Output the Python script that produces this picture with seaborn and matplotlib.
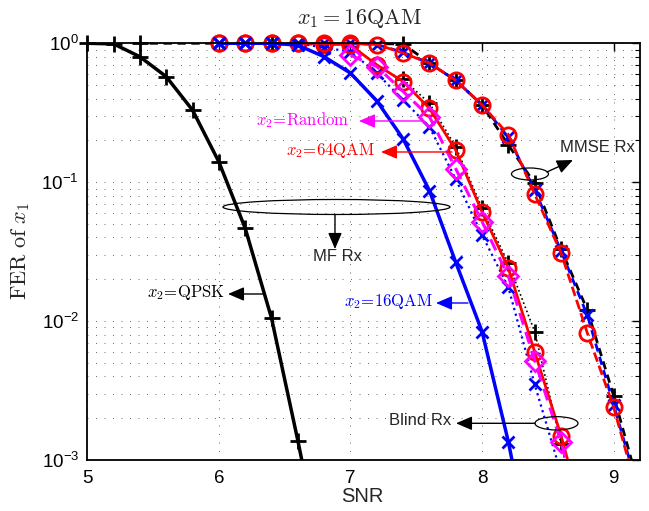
import numpy as np
import pandas as pd
import matplotlib
matplotlib.use("Agg")
import matplotlib.pyplot as plt
from matplotlib.patches import Ellipse
from matplotlib.ticker import LogLocator, FixedLocator
import seaborn as sns

# ---------------- data ----------------
# Matched-filter receiver
mf_qpsk_snr = [5.0, 5.2, 5.4, 5.6, 5.8, 6.0, 6.2, 6.4, 6.6, 6.8]
mf_qpsk_fer = [1.0, 0.99, 0.80, 0.575, 0.33, 0.14, 0.0466, 0.0105, 0.00138, 1.6e-4]

mf_16qam_snr = [6.0, 6.2, 6.4, 6.6, 6.8, 7.0, 7.2, 7.4, 7.6, 7.8, 8.0, 8.2, 8.4]
mf_16qam_fer = [1.0, 1.0, 1.0, 0.97, 0.80, 0.61, 0.385, 0.205, 0.087, 0.0265, 0.0084, 0.00135, 1.5e-4]

# Blind receiver
blind_snr = [6.0, 6.2, 6.4, 6.6, 6.8, 7.0, 7.2, 7.4, 7.6, 7.8, 8.0, 8.2, 8.4, 8.6, 8.8]
blind_64qam_fer = [1.0, 1.0, 1.0, 1.0, 1.0, 0.97, 0.70, 0.53, 0.34, 0.17, 0.061, 0.024, 0.006, 0.0015, 3e-4]
blind_16qam_fer = [1.0, 1.0, 1.0, 1.0, 0.93, 0.87, 0.61, 0.39, 0.25, 0.105, 0.0417, 0.0175, 0.0035, 8e-4, 1.5e-4]
blind_random_snr = [7.0, 7.2, 7.4, 7.6, 7.8, 8.0, 8.2, 8.4, 8.6, 8.8]
blind_random_fer = [0.82, 0.68, 0.45, 0.296, 0.125, 0.052, 0.021, 0.0052, 0.00135, 2.5e-4]
blind_qpsk_snr = [7.4, 7.6, 7.8, 8.0, 8.2, 8.4, 8.6, 8.8]
blind_qpsk_fer = [0.55, 0.37, 0.18, 0.065, 0.026, 0.0084, 0.0013, 2e-4]

# MMSE receiver
mmse_snr = [6.0, 6.2, 6.4, 6.6, 6.8, 7.0, 7.2, 7.4, 7.6, 7.8, 8.0, 8.2, 8.4, 8.6, 8.8, 9.0, 9.2]
mmse_64qam_fer = [1.0, 1.0, 1.0, 1.0, 0.97, 1.0, 0.98, 0.85, 0.72, 0.54, 0.36, 0.22, 0.082, 0.031, 0.0082, 0.0024, 5e-4]
mmse_16qam_fer = [1.0, 1.0, 1.0, 1.0, 1.0, 1.0, 0.98, 0.86, 0.72, 0.54, 0.36, 0.21, 0.088, 0.032, 0.011, 0.0025, 5.5e-4]
mmse_qpsk_snr = [5.4, 6.4, 7.4, 7.6, 7.8, 8.0, 8.2, 8.4, 8.6, 8.8, 9.0, 9.2]
mmse_qpsk_fer = [1.0, 1.0, 0.99, 0.72, 0.54, 0.36, 0.185, 0.098, 0.033, 0.012, 0.0029, 6e-4]

x_ticks = [5, 6, 7, 8, 9]
x_limits = (5.0, 9.2)
y_limits = (1e-3, 1.0)

# ---------------- style ----------------
sns.set_theme(style="white")
plt.rcParams["font.family"] = ["Liberation Sans", "DejaVu Sans"]
plt.rcParams["mathtext.fontset"] = "cm"
plt.rcParams["axes.unicode_minus"] = True

BLUE = (0, 0, 1)
RED = (1, 0, 0)
MAG = (1, 0, 1)
BLACK = (0, 0, 0)

fig = plt.figure(figsize=(6.49, 5.11), dpi=100)
ax = fig.add_axes([0.1345, 0.0998, 0.8516, 0.8155])
ax.set_yscale("log")


def curve(snr, fer, color, ls, lw, marker, ms, mew, z):
    df = pd.DataFrame({"snr": snr, "fer": fer})
    sns.lineplot(data=df, x="snr", y="fer", ax=ax, color=color, linestyle=ls,
                 linewidth=lw, estimator=None, sort=False, zorder=z, legend=False)
    inside = df[(df.fer >= y_limits[0]) & (df.snr <= x_limits[1])]
    ax.plot(inside.snr, inside.fer, linestyle="none", marker=marker, ms=ms,
            mew=mew, mfc="none", mec=color, clip_on=False, zorder=z + 0.5)


# MMSE curves (interleaved dashes)
curve(mmse_qpsk_snr, mmse_qpsk_fer, BLACK, (1.5, (3, 2)), 2.0, "+", 12, 2.0, 3)
curve(mmse_snr, mmse_16qam_fer, BLUE, (3, (3, 2)), 2.0, "x", 9, 2.0, 4)
curve(mmse_snr, mmse_64qam_fer, RED, (0, (3.5, 1.5)), 2.0, "o", 11, 2.0, 5)

# Blind receiver curves
curve(blind_qpsk_snr, blind_qpsk_fer, BLACK, ":", 1.2, "+", 12, 2.0, 6)
curve(blind_snr, blind_16qam_fer, BLUE, ":", 1.6, "x", 9, 2.0, 7)
curve(blind_snr, blind_64qam_fer, RED, "-", 2.0, "o", 11, 2.0, 8)
curve(blind_random_snr, blind_random_fer, MAG, (0, (4, 2.5)), 2.2, "D", 10, 2.0, 9)

# Matched-filter curves
curve(mf_16qam_snr, mf_16qam_fer, BLUE, "-", 2.5, "x", 9, 2.0, 10)
curve(mf_qpsk_snr, mf_qpsk_fer, BLACK, "-", 2.5, "+", 12, 2.0, 11)

# ---------------- axes ----------------
ax.set_xlim(*x_limits)
ax.set_ylim(*y_limits)
ax.xaxis.set_major_locator(FixedLocator(x_ticks))
ax.yaxis.set_major_locator(LogLocator(base=10, numticks=10))
ax.yaxis.set_minor_locator(LogLocator(base=10, subs=np.arange(2, 10), numticks=20))
ax.set_xlabel("")
ax.set_ylabel("")

grid_kw = dict(color="#555555", linewidth=0.6, linestyle=(0, (1.2, 9)))
ax.grid(True, which="major", axis="x", **grid_kw)
ax.grid(True, which="both", axis="y", **grid_kw)
ax.set_axisbelow(True)

for s in ax.spines.values():
    s.set_visible(True)
    s.set_color("black")
    s.set_linewidth(1.3)
    s.set_zorder(20)

ax.tick_params(axis="both", which="both", direction="in", top=True, right=True,
               colors="black", labelsize=13.5)
ax.tick_params(axis="both", which="major", length=6, width=1.0, pad=6)
ax.tick_params(axis="x", which="major", pad=7)
ax.tick_params(axis="y", which="minor", length=3.5, width=0.8)
ax.set_facecolor("white")

# ---------------- texts ----------------
fig.text(0.553, 1 - 18 / 511, r"$x_1 = \mathrm{16QAM}$", ha="center", va="center",
         fontsize=16)
fig.text(0.031, 1 - 251 / 511, r"$\mathrm{FER\ of\ }x_1$", ha="center", va="center",
         rotation=90, fontsize=16)
fig.text(0.558, 1 - 496 / 511, "SNR", ha="center", va="center", fontsize=14.5)


def fx(px):
    return (px - 87.3) / 552.7


def fy(py):
    return (460.0 - py) / 416.7


arrow = dict(arrowstyle="-|>,head_length=0.7,head_width=0.3", mutation_scale=14,
             shrinkA=0, shrinkB=0, linewidth=1.0)


def labelled_arrow(text, tail, tip, text_xy, color, ha="right", fs=12):
    ax.annotate("", xy=(fx(tip[0]), fy(tip[1])), xytext=(fx(tail[0]), fy(tail[1])),
                xycoords="axes fraction", textcoords="axes fraction",
                arrowprops=dict(arrow, color=color), zorder=30,
                annotation_clip=False)
    ax.text(fx(text_xy[0]), fy(text_xy[1]), text, transform=ax.transAxes,
            ha=ha, va="center", color=color, fontsize=fs, zorder=30)


labelled_arrow(r"$x_2\!=\!\mathrm{Random}$", (422, 121), (359, 121), (349, 120), MAG)
labelled_arrow(r"$x_2\!=\!\mathrm{64QAM}$", (452, 152), (381, 152), (375, 151), RED)
labelled_arrow(r"$x_2\!=\!\mathrm{QPSK}$", (263, 294), (228, 294), (225, 293), BLACK)
labelled_arrow(r"$x_2\!=\!\mathrm{16QAM}$", (468, 303), (436, 303), (433, 302), BLUE)


def ellipse(cx, cy, w, h):
    e = Ellipse((fx(cx), fy(cy)), w / 552.7, h / 416.7, transform=ax.transAxes,
                fill=False, edgecolor="black", linewidth=0.9, zorder=30, clip_on=False)
    ax.add_patch(e)


# MF receiver group
ellipse(336.5, 207, 227, 15)
ax.annotate("", xy=(fx(335), fy(249)), xytext=(fx(335), fy(214.5)),
            xycoords="axes fraction", textcoords="axes fraction",
            arrowprops=dict(arrow, color="black"), zorder=30)
ax.text(fx(338), fy(257), "MF Rx", transform=ax.transAxes, ha="center", va="center",
        fontsize=12, zorder=30)

# Blind receiver group
ellipse(556.5, 423.3, 43, 13.3)
ax.annotate("", xy=(fx(456), fy(423.3)), xytext=(fx(535), fy(423.3)),
            xycoords="axes fraction", textcoords="axes fraction",
            arrowprops=dict(arrow, color="black"), zorder=30)
ax.text(fx(451), fy(420), "Blind Rx", transform=ax.transAxes, ha="right", va="center",
        fontsize=12, zorder=30)

# MMSE receiver group
ellipse(530, 174, 37, 12)
ax.annotate("", xy=(fx(573), fy(160)), xytext=(fx(547), fy(172)),
            xycoords="axes fraction", textcoords="axes fraction",
            arrowprops=dict(arrow, color="black"), zorder=30)
ax.text(fx(560), fy(148), "MMSE Rx", transform=ax.transAxes, ha="left", va="center",
        fontsize=12, zorder=30)

fig.savefig("out.png", dpi=100, facecolor="white")
